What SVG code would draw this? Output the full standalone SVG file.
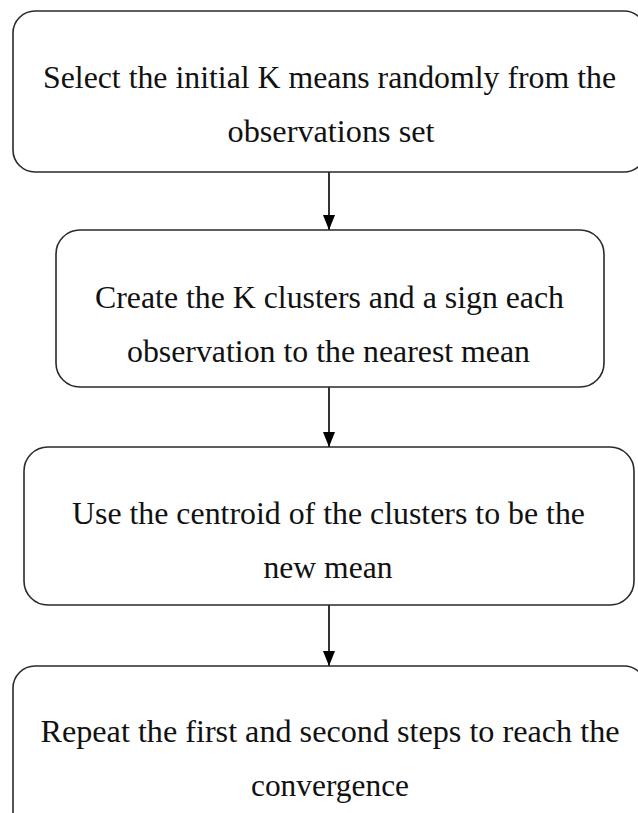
<svg xmlns="http://www.w3.org/2000/svg" width="638" height="813" viewBox="0 0 638 813">
<defs>
<style>
.box{fill:#fff;stroke:#2a2a2a;stroke-width:1.6}
.t{font-family:"Liberation Serif","Times New Roman",serif;font-size:32px;fill:#111;text-anchor:middle}
.c{stroke:#000;stroke-width:1.6;fill:none}
</style>
<marker id="ah" markerWidth="15" markerHeight="12" refX="15" refY="6" orient="auto" markerUnits="userSpaceOnUse" viewBox="0 0 15 12">
<path d="M0,0 L15,6 L0,12 Z" fill="#000"/>
</marker>
</defs>
<rect width="638" height="813" fill="#fff"/>
<g id="connectors">
<line class="c" x1="329" y1="172" x2="329" y2="230" marker-end="url(#ah)"/>
<line class="c" x1="329" y1="387" x2="329" y2="447" marker-end="url(#ah)"/>
<line class="c" x1="329" y1="605" x2="329" y2="666" marker-end="url(#ah)"/>
</g>
<g id="step1">
<rect class="box" x="13" y="11" width="633" height="161" rx="22"/>
<text class="t" x="329.5" y="88" textLength="573" lengthAdjust="spacingAndGlyphs">Select the initial K means randomly from the</text>
<text class="t" x="331" y="142" textLength="207" lengthAdjust="spacingAndGlyphs">observations set</text>
</g>
<g id="step2">
<rect class="box" x="56" y="230" width="548" height="157" rx="24"/>
<text class="t" x="329.5" y="308" textLength="469" lengthAdjust="spacingAndGlyphs">Create the K clusters and a sign each</text>
<text class="t" x="328.5" y="362" textLength="403" lengthAdjust="spacingAndGlyphs">observation to the nearest mean</text>
</g>
<g id="step3">
<rect class="box" x="24" y="447" width="610" height="158" rx="24"/>
<text class="t" x="328.5" y="524" textLength="513" lengthAdjust="spacingAndGlyphs">Use the centroid of the clusters to be the</text>
<text class="t" x="328" y="578" textLength="129" lengthAdjust="spacingAndGlyphs">new mean</text>
</g>
<g id="step4">
<rect class="box" x="13" y="666" width="633" height="180" rx="22"/>
<text class="t" x="330" y="742" textLength="579" lengthAdjust="spacingAndGlyphs">Repeat the first and second steps to reach the</text>
<text class="t" x="330" y="796" textLength="158" lengthAdjust="spacingAndGlyphs">convergence</text>
</g>
</svg>
